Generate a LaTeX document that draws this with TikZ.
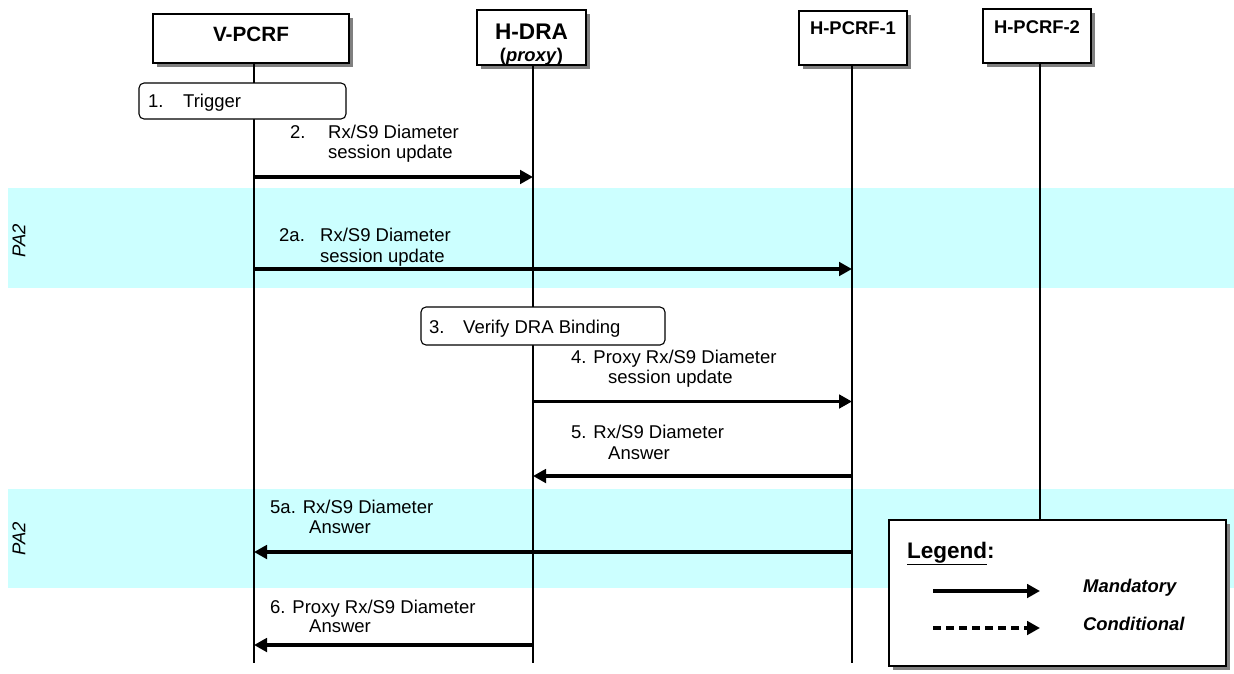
\documentclass[tikz,border=0pt]{standalone}
\usepackage{fontspec}
\setmainfont{Liberation Sans}
\usetikzlibrary{arrows.meta,shadows}
\definecolor{bandcol}{HTML}{CCFFFF}
\begin{document}
\begin{tikzpicture}[x=1pt,y=-1pt,
  entity/.style={draw, fill=white, line width=1.4pt, inner sep=0pt,
    drop shadow={shadow xshift=4pt, shadow yshift=-4pt, fill=black!50, opacity=1}},
  ttl/.style={inner sep=0pt, font=\fontsize{18.4}{20}\selectfont\bfseries},
  actbox/.style={draw, fill=white, line width=1.1pt, rounded corners=5pt, inner sep=0pt},
  lbl/.style={inner sep=0pt, anchor=west, text height=13.2pt, text depth=0pt,
    font=\fontsize{18.5}{20}\selectfont},
  life/.style={line width=1.3pt},
  msg/.style={line width=3.3pt, -{Triangle[length=13pt,width=13.5pt]}},
  band/.style={fill=bandcol, draw=none},
  pa/.style={inner sep=0pt, rotate=90, font=\fontsize{18.5}{20}\selectfont\itshape}
]
\useasboundingbox (0,0) rectangle (1234,673);

% bands
\fill[band] (8,188) rectangle (1234,288);
\fill[band] (8,489) rectangle (1234,588);
\node[pa] (pa1) at (19,241) {PA2};
\node[pa] (pa2) at (19,539) {PA2};

% entities
\node[entity, minimum width=196pt, minimum height=49pt] (vpcrf) at (251,38.5) {};
\node[entity, minimum width=109pt, minimum height=55pt] (hdra) at (531.5,37.5) {};
\node[entity, minimum width=108pt, minimum height=54pt] (hp1) at (853,38) {};
\node[entity, minimum width=108pt, minimum height=54pt] (hp2) at (1037,36) {};
\node[ttl, font=\fontsize{20.7}{22}\selectfont\bfseries] (vpcrfT) at (251,34) {V-PCRF};
\node[ttl, font=\fontsize{22.6}{24}\selectfont\bfseries] (hdraT) at (531.5,32) {H-DRA};
\node[ttl] (hdraP) at (531.5,57) {(\textit{proxy})};
\node[ttl] (hp1T) at (853,28) {H-PCRF-1};
\node[ttl] (hp2T) at (1037,27) {H-PCRF-2};

% lifeline coordinates
\coordinate (vT) at (254,63);   \coordinate (vB) at (254,663);
\coordinate (dT) at (533,65);   \coordinate (dB) at (533,663);
\coordinate (h1T) at (852,65);  \coordinate (h1B) at (852,663);
\coordinate (h2T) at (1040,63); \coordinate (h2B) at (1040,520);
\draw[life] (vT) -- (vB);
\draw[life] (dT) -- (dB);
\draw[life] (h1T) -- (h1B);
\draw[life] (h2T) -- (h2B);

% step 1
\node[actbox, minimum width=207pt, minimum height=36pt] (trig) at (242.5,101) {};
\node[lbl] (trigT) at (148,101) {\makebox[35pt][l]{1.}Trigger};

% step 2
\node[lbl] (m2n) at (290,132) {2.};
\node[lbl] (m2a) at (328,132) {Rx/S9 Diameter};
\node[lbl] (m2b) at (328,152) {session update};
\coordinate (y2) at (0,177);
\draw[msg] (vB |- y2) -- (dB |- y2);

% step 2a
\node[lbl] (m2an) at (279,235) {2a.};
\node[lbl] (m2aa) at (320,235) {Rx/S9 Diameter};
\node[lbl] (m2ab) at (320,256) {session update};
\coordinate (y2a) at (0,269);
\draw[msg] (vB |- y2a) -- (h1B |- y2a);

% step 3
\node[actbox, minimum width=244pt, minimum height=38pt] (verify) at (543,326) {};
\node[lbl] (verifyT) at (429,327) {\makebox[34pt][l]{3.}Verify DRA Binding};

% step 4
\node[lbl] (m4a) at (571,357) {4. Proxy Rx/S9 Diameter};
\node[lbl] (m4b) at (608,377) {session update};
\coordinate (y4) at (0,401.5);
\draw[msg] (dB |- y4) -- (h1B |- y4);

% step 5
\node[lbl] (m5a) at (571,432) {5. Rx/S9 Diameter};
\node[lbl] (m5b) at (608,453) {Answer};
\coordinate (y5) at (0,476);
\draw[msg] (h1B |- y5) -- (dB |- y5);

% step 5a
\node[lbl] (m5aa) at (270,507) {5a. Rx/S9 Diameter};
\node[lbl] (m5ab) at (309,527) {Answer};
\coordinate (y5a) at (0,552);
\draw[msg] (h1B |- y5a) -- (vB |- y5a);

% step 6
\node[lbl] (m6a) at (270,607) {6. Proxy Rx/S9 Diameter};
\node[lbl] (m6b) at (309,626) {Answer};
\coordinate (y6) at (0,645);
\draw[msg] (dB |- y6) -- (vB |- y6);

% legend
\node[entity, line width=2pt, minimum width=337pt, minimum height=146pt] (leg) at (1057.5,593) {};
\node[lbl, text height=16pt, font=\fontsize{22.5}{24}\selectfont\bfseries] (legT) at (907,550) {\underline{Legend}:};
\coordinate (lm1) at (933,591); \coordinate (lm2) at (1040,591);
\coordinate (lc1) at (933,628); \coordinate (lc2) at (1040,628);
\draw[msg] (lm1) -- (lm2);
\draw[msg, dash pattern=on 8pt off 5pt] (lc1) -- (lc2);
\node[lbl, font=\fontsize{18.4}{20}\selectfont\bfseries\itshape] (legM) at (1083,586) {Mandatory};
\node[lbl, font=\fontsize{18.4}{20}\selectfont\bfseries\itshape] (legC) at (1083,624) {Conditional};
\end{tikzpicture}
\end{document}
